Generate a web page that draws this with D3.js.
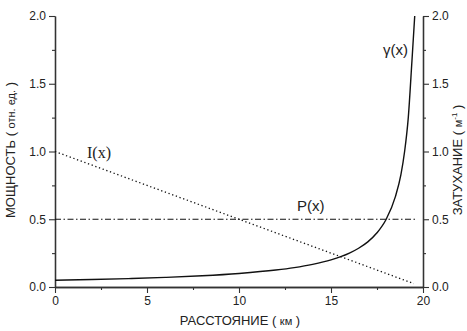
<!DOCTYPE html>
<html>
<head>
<meta charset="utf-8">
<script src="https://cdn.jsdelivr.net/npm/d3@7"></script>
<style>
  body { margin: 0; background: #fff; }
  svg { display: block; }
  text { font-family: 'Liberation Sans', Arial, sans-serif; fill: #222; }
</style>
</head>
<body>
<svg id="chart" width="467" height="331"></svg>
<script>
// values
const gammaX = [0, 2, 4, 6, 8, 10, 12, 13, 14, 15, 16, 16.5, 17, 17.5, 18, 18.5, 18.8, 19, 19.2, 19.4, 19.55]
const gammaY = [0.05, 0.055, 0.062, 0.071, 0.083, 0.1, 0.125, 0.143, 0.167, 0.2, 0.25, 0.286, 0.333, 0.4, 0.5, 0.667, 0.83, 1.0, 1.25, 1.67, 2.0]
const intensityX = [0, 19.5]
const intensityY = [1.0, 0.025]
const powerX = [0, 19.7]
const powerY = [0.5, 0.5]
const xTicks = [0, 5, 10, 15, 20]
const yTicks = [0, 0.5, 1.0, 1.5, 2.0]

const svg = d3.select('#chart')
const mLeft = 55
const mRight = 423
const mTop = 16
const mBottom = 287
const ink = '#333'

const x = d3.scaleLinear().domain([0, 20]).range([mLeft, mRight])
const yL = d3.scaleLinear().domain([0, 2]).range([mBottom, mTop])
const yR = d3.scaleLinear().domain([0, 2]).range([mBottom, mTop])

// axes, major + minor ticks
function styleAxis (g) {
  g.selectAll('path').attr('stroke', ink).attr('stroke-width', 1.3)
  g.selectAll('line').attr('stroke', ink).attr('stroke-width', 1.1)
  g.selectAll('text').style('font-size', '12px').attr('fill', ink)
}

const minorX = d3.range(0, 20.01, 2.5).filter(v => v % 5 !== 0)
const minorY = d3.range(0, 2.01, 0.25).filter(v => Math.abs(v * 2 - Math.round(v * 2)) > 0.01)

svg.append('g').attr('transform', `translate(0,${mBottom})`)
  .call(d3.axisBottom(x).tickValues(minorX).tickSize(3).tickFormat('').tickSizeOuter(0))
  .call(styleAxis)
svg.append('g').attr('transform', `translate(0,${mBottom})`)
  .call(d3.axisBottom(x).tickValues(xTicks).tickSize(6).tickPadding(3).tickFormat(d3.format('d')).tickSizeOuter(0))
  .call(styleAxis)

svg.append('g').attr('transform', `translate(${mLeft},0)`)
  .call(d3.axisLeft(yL).tickValues(minorY).tickSize(3).tickFormat('').tickSizeOuter(0))
  .call(styleAxis)
svg.append('g').attr('transform', `translate(${mLeft},0)`)
  .call(d3.axisLeft(yL).tickValues(yTicks).tickSize(6).tickPadding(3).tickFormat(d3.format('.1f')).tickSizeOuter(0))
  .call(styleAxis)

svg.append('g').attr('transform', `translate(${mRight},0)`)
  .call(d3.axisRight(yR).tickValues(minorY).tickSize(3).tickFormat('').tickSizeOuter(0))
  .call(styleAxis)
svg.append('g').attr('transform', `translate(${mRight},0)`)
  .call(d3.axisRight(yR).tickValues(yTicks).tickSize(6).tickPadding(3).tickFormat(d3.format('.1f')).tickSizeOuter(0))
  .call(styleAxis)

// curves
const line = d3.line().x(d => x(d[0])).y(d => d[1])

svg.append('path')
  .attr('d', line(intensityX.map((v, i) => [v, yL(intensityY[i])])))
  .attr('fill', 'none').attr('stroke', '#111').attr('stroke-width', 1.3)
  .attr('stroke-dasharray', '1.3,2.6')

svg.append('path')
  .attr('d', line(powerX.map((v, i) => [v, yL(powerY[i])])))
  .attr('fill', 'none').attr('stroke', '#111').attr('stroke-width', 1.1)
  .attr('stroke-dasharray', '6,2.5,1.5,2.5')

svg.append('path')
  .attr('d', d3.line().x(d => x(d[0])).y(d => d[1]).curve(d3.curveMonotoneX)(gammaX.map((v, i) => [v, yR(gammaY[i])])))
  .attr('fill', 'none').attr('stroke', '#111').attr('stroke-width', 1.4)

// curve labels
svg.append('text').attr('x', 87).attr('y', 158)
  .style('font-family', "'Liberation Serif', 'Times New Roman', serif").style('font-size', '16px')
  .text('I(x)')
svg.append('text').attr('x', 297).attr('y', 211)
  .style('font-size', '15px')
  .text('P(x)')
svg.append('text').attr('x', 383).attr('y', 55)
  .style('font-size', '15px')
  .text('γ(x)')

// axis titles
const xt = svg.append('text').attr('x', 240).attr('y', 325).attr('text-anchor', 'middle').style('font-size', '13px')
xt.append('tspan').text('РАССТОЯНИЕ ( ')
xt.append('tspan').style('font-size', '11px').text('км')
xt.append('tspan').text(' )')

const lt = svg.append('text').attr('transform', 'translate(15,150) rotate(-90)').attr('text-anchor', 'middle').style('font-size', '13px')
lt.append('tspan').text('МОЩНОСТЬ ( ')
lt.append('tspan').style('font-size', '11px').text('отн. ед.')
lt.append('tspan').text(' )')

const rt = svg.append('text').attr('transform', 'translate(462,160) rotate(-90)').attr('text-anchor', 'middle').style('font-size', '13px')
rt.append('tspan').text('ЗАТУХАНИЕ ( ')
rt.append('tspan').style('font-size', '11px').text('м')
rt.append('tspan').style('font-size', '8px').attr('dy', '-5').text('-1')
rt.append('tspan').attr('dy', '5').text(' )')
</script>
</body>
</html>
